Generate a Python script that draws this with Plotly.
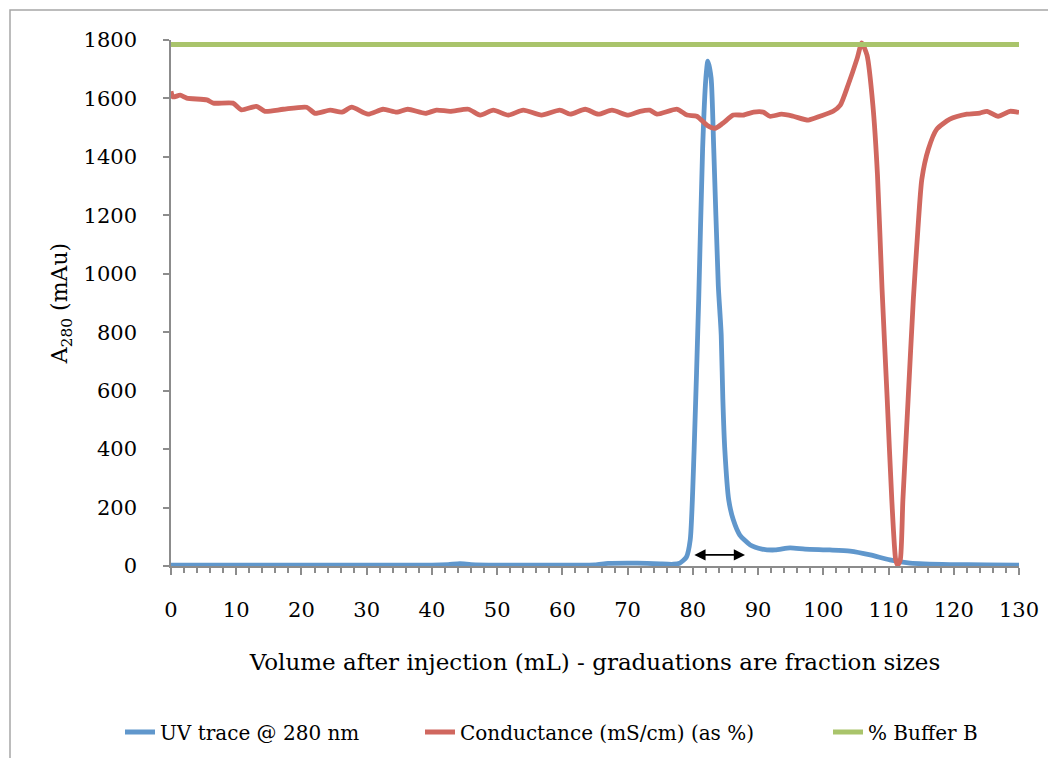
import plotly.graph_objects as go

# ---- data ----
uv_x = [0, 10, 20, 30, 40, 42.5, 44.3, 46, 50, 55, 62, 65, 67, 70, 73, 75, 77, 78, 79, 79.6,
        80.2, 80.9, 81.5, 82.0, 82.3, 82.8, 83.2, 83.9, 84.2, 84.35, 84.6, 84.9, 85.5, 86.2,
        87.2, 88.8, 90.6, 92.6, 94.9, 97.2, 101, 104.1, 107.2, 110.2, 113.3, 119.4, 125, 130]
uv_y = [3, 3, 3, 3, 3, 5, 8, 5, 3, 3, 3, 4, 9, 10, 9, 7, 6, 10, 30, 90,
        400, 915, 1430, 1670, 1728, 1670, 1430, 960, 850, 790, 570, 398, 226, 158,
        106, 72, 58, 55, 62, 58, 55, 51, 38, 21, 10, 5, 4, 3]

cond_x = [0, 0.3, 1.4, 2.4, 5.5, 6.5, 9.5, 10.8, 13.1, 14.4, 17.2, 20.8, 22.1, 24.4, 26.2,
          27.7, 30.2, 32.5, 34.6, 36.3, 39, 40.7, 42.8, 45.6, 47.4, 49.4, 51.7, 54, 56.8,
          59.6, 61.2, 63.5, 65.5, 67.6, 70.1, 71.9, 73.4, 74.5, 77.6, 79.1, 80.6, 82.2,
          83.4, 84.6, 86.2, 87.7, 89.3, 90.8, 91.8, 93.6, 95.4, 97.7, 99.5, 101.5, 102.6,
          103.8, 105.2, 105.9, 106.7, 107.6, 108.3, 109.0, 109.8, 110.5, 111.1,
          111.4, 111.8, 112.2, 113.0, 113.8, 114.5, 115.1, 116.1, 117.4, 119.4, 122, 124,
          125.1, 126.8, 128.6, 130]
cond_y = [1625, 1605, 1611, 1601, 1595, 1584, 1584, 1561, 1573, 1556, 1563, 1570, 1549, 1560,
          1553, 1570, 1546, 1563, 1553, 1563, 1549, 1560, 1556, 1563, 1543, 1560, 1543, 1560,
          1543, 1560, 1546, 1563, 1546, 1560, 1543, 1556, 1560, 1546, 1563, 1543, 1539,
          1508, 1498, 1515, 1543, 1543, 1553, 1553, 1539, 1546, 1539, 1526, 1539, 1556,
          1577, 1646, 1738, 1790, 1748, 1577, 1340, 950, 569, 226, 21,
          3, 21, 226, 569, 912, 1152, 1323, 1426, 1495, 1529, 1546, 1550,
          1556, 1539, 1556, 1552]

buf_x = [0, 130]
buf_y = [1785, 1785]

arrow_from = 80.0
arrow_to = 88.0
arrow_level = 38

y_ticks = list(range(0, 1801, 200))
x_ticks = list(range(0, 131, 10))

FONT = "DejaVu Serif"
AXIS_GRAY = "#8C8C8C"

# page body adds an 8px offset; plot area target: x 171..1019, y 40..566
OFF = 8
L, T, PW, PH = 171 - OFF, 40 - OFF, 848, 526
R = 1056 - L - PW
B = 758 - T - PH


def px_x(p):
    return (p - 171) / PW


def px_y(p):
    return (566 - p) / PH


fig = go.Figure()
fig.add_trace(go.Scatter(x=uv_x, y=uv_y, mode="lines", name="UV trace @ 280 nm",
                         line=dict(color="#6097CC", width=4.8, shape="spline", smoothing=0.6),
                         legend="legend"))
fig.add_trace(go.Scatter(x=cond_x, y=cond_y, mode="lines", name="Conductance (mS/cm) (as %)",
                         line=dict(color="#D0675F", width=4.8, shape="spline", smoothing=0.6),
                         legend="legend2"))
fig.add_trace(go.Scatter(x=buf_x, y=buf_y, mode="lines", name="% Buffer B",
                         line=dict(color="#A9C46B", width=5),
                         legend="legend3"))

fig.add_annotation(x=arrow_to, y=arrow_level, ax=arrow_from, ay=arrow_level,
                   xref="x", yref="y", axref="x", ayref="y", text="",
                   showarrow=True, arrowhead=2, startarrowhead=2, arrowside="end+start",
                   arrowsize=1.4, startarrowsize=1.4, arrowwidth=1.6, arrowcolor="black")

# outer chart border
fig.add_shape(type="rect", xref="paper", yref="paper",
              x0=px_x(10), x1=px_x(1075), y0=px_y(790), y1=px_y(10),
              line=dict(color="#A6A6A6", width=1.5), layer="below")

leg_common = dict(orientation="h", yanchor="middle", xanchor="left", y=px_y(732),
                  font=dict(family=FONT, size=20, color="black"), bgcolor="rgba(0,0,0,0)")
fig.update_layout(
    width=1056, height=758,
    paper_bgcolor="white", plot_bgcolor="white",
    margin=dict(l=L, r=R, t=T, b=B, autoexpand=False),
    font=dict(family=FONT, size=21, color="black"),
    showlegend=True,
    legend=dict(x=px_x(120), **leg_common),
    legend2=dict(x=px_x(420), **leg_common),
    legend3=dict(x=px_x(828), **leg_common),
    xaxis=dict(range=[0, 130], tickvals=x_ticks, ticktext=[str(v) for v in x_ticks],
               ticks="outside", ticklen=7, tickwidth=1.5, tickcolor=AXIS_GRAY,
               showline=True, linecolor=AXIS_GRAY, linewidth=1.5, showgrid=False, zeroline=False,
               minor=dict(dtick=2, tick0=0, ticks="outside", ticklen=5, tickwidth=1.5,
                          tickcolor=AXIS_GRAY, showgrid=False),
               ticklabelstandoff=17,
               tickfont=dict(family=FONT, size=21),
               title=dict(text="Volume after injection (mL) - graduations are fraction sizes",
                          font=dict(family=FONT, size=23), standoff=33)),
    yaxis=dict(range=[0, 1800], tickvals=y_ticks, ticktext=[str(v) for v in y_ticks],
               ticks="outside", ticklen=6, tickwidth=1.5, tickcolor=AXIS_GRAY,
               showline=True, linecolor=AXIS_GRAY, linewidth=1.5, showgrid=False, zeroline=False,
               ticklabelstandoff=22,
               tickfont=dict(family=FONT, size=21),
               title=dict(text="A<sub>280</sub> (mAu)", font=dict(family=FONT, size=22),
                          standoff=10)),
)

fig.write_html("out.html")
